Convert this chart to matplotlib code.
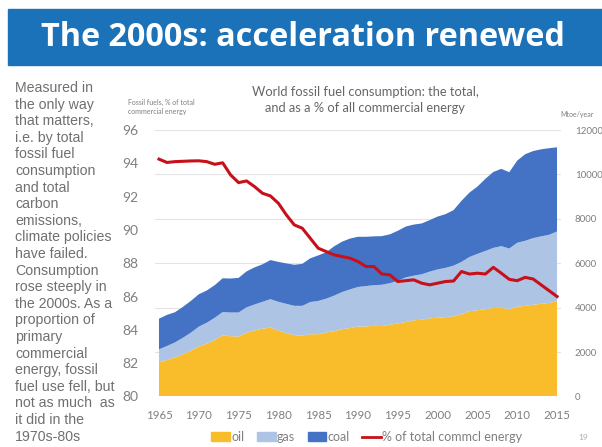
import numpy as np
import matplotlib
matplotlib.use('Agg')
import matplotlib.pyplot as plt
from matplotlib.patches import Rectangle, Patch
from matplotlib.lines import Line2D

# Data
years = np.arange(1965, 2016)
oil = [1530, 1640, 1750, 1900, 2060,
       2250, 2370, 2540, 2750, 2710, 2700, 2870, 2970, 3050, 3100,
       2960, 2850, 2760, 2740, 2800, 2800, 2880, 2940, 3030, 3080,
       3150, 3150, 3180, 3170, 3230, 3290, 3350, 3430, 3450, 3520,
       3540, 3570, 3610, 3700, 3840, 3880, 3930, 3980, 3990, 3930,
       4040, 4080, 4130, 4170, 4210, 4290]
gas = [590, 630, 680, 740, 810,
       890, 950, 1000, 1050, 1070, 1080, 1140, 1170, 1210, 1280,
       1300, 1320, 1320, 1340, 1450, 1500, 1520, 1600, 1670, 1740,
       1780, 1820, 1830, 1860, 1870, 1920, 2010, 2010, 2050, 2100,
       2180, 2220, 2280, 2360, 2440, 2540, 2620, 2710, 2780, 2730,
       2880, 2930, 3000, 3040, 3070, 3140]
coal = [1380, 1400, 1360, 1390, 1430,
        1460, 1450, 1470, 1520, 1530, 1560, 1620, 1670, 1690, 1760,
        1800, 1820, 1850, 1890, 1970, 2050, 2090, 2220, 2270, 2290,
        2260, 2220, 2200, 2190, 2200, 2250, 2290, 2300, 2290, 2320,
        2380, 2420, 2500, 2750, 2900, 3030, 3250, 3420, 3480, 3440,
        3700, 3900, 3920, 3920, 3900, 3790]
pct_fossil = [94.25, 94.05, 94.1, 94.12, 94.14,
              94.15, 94.1, 93.94, 94.03, 93.3, 92.84, 92.94, 92.6, 92.2, 92.04,
              91.6, 90.9, 90.3, 90.1, 89.5, 88.9, 88.7, 88.5, 88.4, 88.3,
              88.1, 87.8, 87.8, 87.35, 87.3, 86.9, 86.95, 87.0, 86.8, 86.7,
              86.8, 86.9, 86.93, 87.5, 87.35, 87.4, 87.35, 87.75, 87.4, 87.03,
              86.95, 87.15, 87.05, 86.7, 86.35, 86.0]

side_lines = ["Measured in", "the only way", "that matters,", "i.e. by total",
              "fossil fuel", "consumption", "and total", "carbon", "emissions,",
              "climate policies", "have failed.", "Consumption", "rose steeply in",
              "the 2000s. As a", "proportion of", "primary", "commercial",
              "energy, fossil", "fuel use fell, but", "not as much  as",
              "it did in the", "1970s-80s"]

c_oil = '#f9bd2c'
c_gas = '#adc4e4'
c_coal = '#4472c4'
c_red = '#c8101a'
grey = '#7f7f7f'

W, H = 602, 447
fig = plt.figure(figsize=(W / 100, H / 100), dpi=100)

def fx(px):
    return px / W

def fy(py):
    return 1 - py / H

# title bar
fig.patches.append(Rectangle((fx(8), fy(65)), 1 - fx(8), (65 - 9) / H,
                             transform=fig.transFigure, color='#1b72b9', zorder=0))
fig.text(fx(303), fy(37), "The 2000s: acceleration renewed", color='white',
         fontsize=23.3, fontweight='bold', family='Open Sans', ha='center', va='center')

# side text
for i, s in enumerate(side_lines):
    fig.text(fx(15), fy(88 + i * 16.6), s, color='#707070', fontsize=10.2,
             family='Liberation Sans', ha='left', va='center')

# main axes: areas on right axis (Mtoe), red line on left axis (%)
ax = fig.add_axes([fx(155), fy(396.4), fx(561) - fx(155), (396.4 - 130) / H])
ax.stackplot(years, oil, gas, coal, colors=[c_oil, c_gas, c_coal], lw=0)
ax.set_xlim(1964.5, 2015.5)
ax.set_ylim(0, 12000)
ax.set_yticks(np.arange(0, 12001, 2000))
ax.grid(axis='y', color='#e4e4e4', lw=0.8)
ax.set_axisbelow(True)
ax.set_xticks(np.arange(1965, 2016, 5))
for sp in ax.spines.values():
    sp.set_visible(False)

ax2 = ax.twinx()
ax2.plot(years, pct_fossil, color=c_red, lw=2.2)
ax2.set_ylim(80, 96)
ax2.set_yticks(np.arange(80, 97, 2))
for sp in ax2.spines.values():
    sp.set_visible(False)

# twinx resets the sides, so set them afterwards
ax.yaxis.tick_right()
ax2.yaxis.tick_left()
ax.tick_params(axis='x', length=0, pad=10, labelsize=8.3, labelcolor=grey)
ax.tick_params(axis='y', length=0, pad=10, labelsize=7, labelcolor=grey)
ax2.tick_params(axis='y', length=0, pad=12, labelsize=10, labelcolor=grey)

for lab in ax.get_xticklabels() + ax.get_yticklabels() + ax2.get_yticklabels():
    lab.set_family('Lato')

# chart titles and axis captions
fig.text(fx(365), fy(92), "World fossil fuel consumption: the total,", color='#666666',
         fontsize=9.3, family='Lato', ha='center', va='center')
fig.text(fx(365), fy(108.5), "and as a % of all commercial energy", color='#666666',
         fontsize=9.3, family='Lato', ha='center', va='center')
fig.text(fx(128), fy(107), "Fossil fuels, % of total\ncommercial energy", color=grey,
         fontsize=5, family='Lato', ha='left', va='center', linespacing=1.3)
fig.text(fx(560), fy(114), "Mtoe/year", color=grey, fontsize=5, family='Lato',
         ha='left', va='center')

# legend
handles = [Patch(color=c_oil), Patch(color=c_gas), Patch(color=c_coal),
           Line2D([], [], color=c_red, lw=2)]
labels = ['oil', 'gas', 'coal', '% of total commcl energy']
leg = fig.legend(handles, labels, loc='center', bbox_to_anchor=(fx(367), fy(437)),
                 ncol=4, frameon=False, handlelength=1.5, handleheight=0.7,
                 handletextpad=0.1, columnspacing=1.0, prop={'family': 'Lato', 'size': 9})
for t in leg.get_texts():
    t.set_color(grey)

fig.text(fx(583), fy(437), "19", color='#aaaaaa', fontsize=6, family='Lato',
         ha='center', va='center')

fig.savefig('out.png', dpi=100)
